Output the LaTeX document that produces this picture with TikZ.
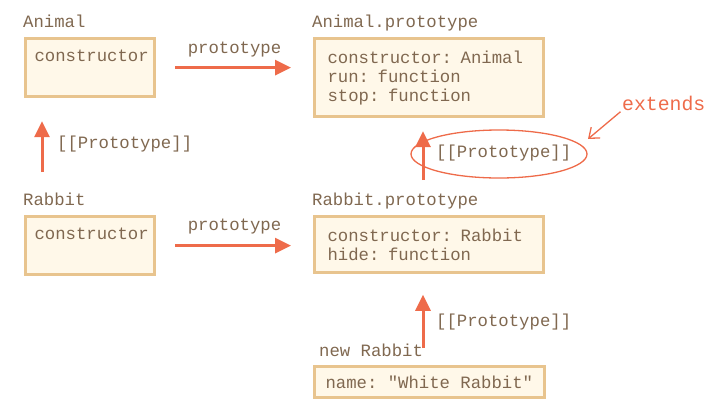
\documentclass[tikz,border=0pt]{standalone}
\usepackage{fontspec}
\setmonofont{Liberation Mono}
\usetikzlibrary{arrows.meta}
\definecolor{txtc}{RGB}{128,104,80}
\definecolor{arrc}{RGB}{238,107,74}
\definecolor{boxd}{RGB}{232,196,142}
\definecolor{boxf}{RGB}{255,248,233}

\begin{document}
\begin{tikzpicture}[x=1pt,y=-1pt,
  every node/.style={font=\ttfamily\fontsize{17.3}{19}\selectfont,text=txtc,inner sep=0pt},
  lbl/.style={anchor=base west},
  objbox/.style={draw=boxd,fill=boxf,line width=3pt,anchor=north west,align=left,
    inner xsep=13pt,inner ysep=12pt},
  arr/.style={draw=arrc,line width=3pt,-{Triangle[length=16pt,width=15pt]}},
  thin arr/.style={draw=arrc,line width=1.3pt,-{Straight Barb[length=9pt,width=14pt]}}]
  \useasboundingbox (0,0) rectangle (716,416);

  % objects
  \node[lbl] (anilbl) at (23,27) {Animal};
  \node[objbox,text width=111pt,inner xsep=9pt,inner ysep=11pt] (ani) at (24,37) {constructor\\\strut};
  \node[lbl] (aniprotolbl) at (312,27) {Animal.prototype};
  \node[objbox,text width=203pt] (aniproto) at (313,37)
    {constructor: Animal\\run: function\\stop: function};

  \node[lbl] (rablbl) at (23,205) {Rabbit};
  \node[objbox,text width=111pt,inner xsep=9pt,inner ysep=11pt] (rab) at (24,215) {constructor\\\strut};
  \node[lbl] (rabprotolbl) at (312,205) {Rabbit.prototype};
  \node[objbox,text width=203pt] (rabproto) at (313,215)
    {constructor: Rabbit\\hide: function};

  \node[lbl] (newrablbl) at (319,356) {new Rabbit};
  \node[objbox,inner ysep=9pt,inner xsep=11pt] (newrab) at (313,365)
    {name: "White Rabbit"};

  % prototype links
  \draw[arr,shorten <=19pt,shorten >=22pt] (ani.east) -- node[anchor=base,yshift=14pt] (p1) {prototype} (ani.east -| aniproto.west);
  \draw[arr,shorten <=19pt,shorten >=22pt] (rab.east) -- node[anchor=base,yshift=15pt] (p2) {prototype} (rab.east -| rabproto.west);

  % [[Prototype]] links
  \coordinate (c1) at (42,172);
  \coordinate (c2) at (423,180);
  \coordinate (c3) at (423,348);
  \draw[arr,shorten >=23pt] (c1) -- (c1 |- ani.south);
  \draw[arr,shorten >=13pt] (c2) -- (c2 |- aniproto.south);
  \draw[arr,shorten >=21pt] (c3) -- (c3 |- rabproto.south);
  \node[anchor=west] (pp1) at (57,144) {[[Prototype]]};
  \node[anchor=west] (pp2) at (436,153) {[[Prototype]]};
  \node[anchor=west] (pp3) at (436,322) {[[Prototype]]};
  \coordinate (ring) at (499,154);
  \draw[arrc,line width=1.3pt] (ring) ellipse [x radius=88, y radius=24];

  % extends
  \node[lbl,text=arrc,font=\ttfamily\fontsize{19.8}{22}\selectfont] (ext) at (622,110) {extends};
  \coordinate (exttip) at (588,139);
  \draw[thin arr,shorten <=2pt] (ext.south west) -- (exttip);
\end{tikzpicture}
\end{document}
